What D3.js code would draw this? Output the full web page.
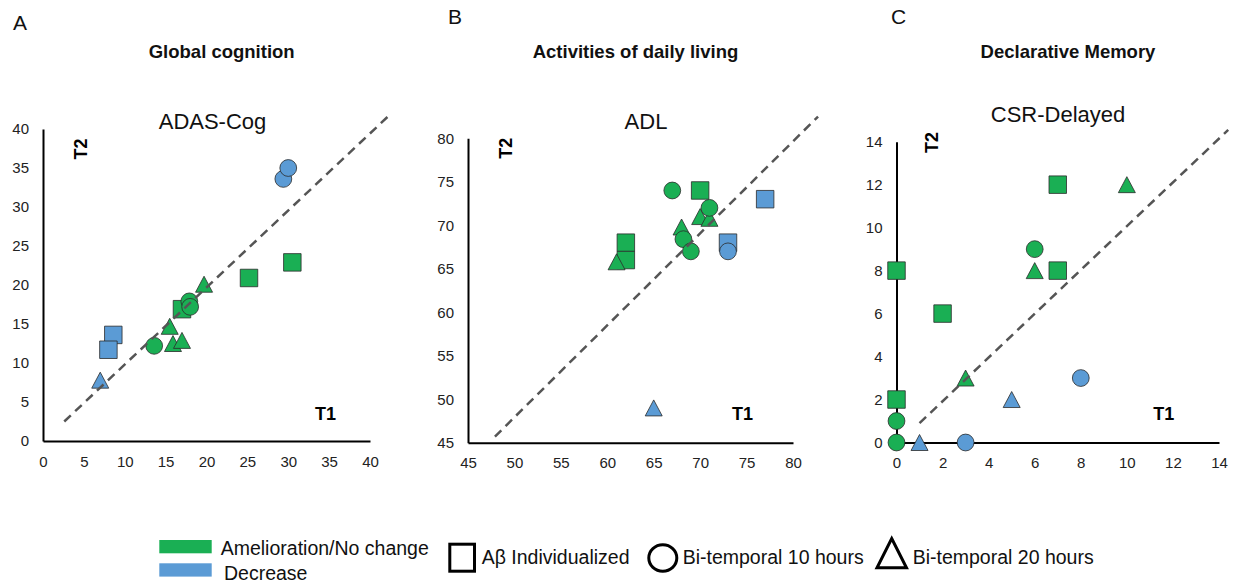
<!DOCTYPE html>
<html>
<head>
<meta charset="utf-8">
<script src="https://cdn.jsdelivr.net/npm/d3@7"></script>
<style>
  body { margin: 0; background: #fff; }
  text { font-family: "Liberation Sans", Arial, sans-serif; }
</style>
</head>
<body>
<svg id="chart" width="1245" height="586"></svg>
<script>
// each row: [T1, T2, change, protocol]
const adasCog = [
  [29.4, 33.6, "down", "bt10"], [30.0, 35.0, "down", "bt10"],
  [8.6, 13.6, "down", "ind"], [8.0, 11.7, "down", "ind"],
  [7.0, 7.8, "down", "bt20"],
  [13.6, 12.2, "up", "bt10"], [17.9, 17.9, "up", "bt10"], [18.0, 17.2, "up", "bt10"],
  [15.5, 14.7, "up", "bt20"], [15.9, 12.5, "up", "bt20"], [17.0, 12.9, "up", "bt20"], [19.7, 20.1, "up", "bt20"],
  [17.0, 16.9, "up", "ind"], [25.2, 20.9, "up", "ind"], [30.5, 22.9, "up", "ind"]
];
const adl = [
  [67, 74, "up", "bt10"], [71, 72, "up", "bt10"], [68.2, 68.4, "up", "bt10"], [69, 67, "up", "bt10"],
  [70, 74, "up", "ind"], [62, 68, "up", "ind"], [62, 66, "up", "ind"],
  [70, 71, "up", "bt20"], [71, 70.8, "up", "bt20"], [68, 69.8, "up", "bt20"], [61, 65.8, "up", "bt20"],
  [77, 73, "down", "ind"], [73, 68, "down", "ind"],
  [73, 67, "down", "bt10"],
  [65, 49, "down", "bt20"]
];
const csrDelayed = [
  [7, 12, "up", "ind"], [7, 8, "up", "ind"], [0, 8, "up", "ind"], [2, 6, "up", "ind"], [0, 2, "up", "ind"],
  [10, 12, "up", "bt20"], [6, 8, "up", "bt20"], [3, 3, "up", "bt20"],
  [6, 9, "up", "bt10"], [0, 1, "up", "bt10"], [0, 0, "up", "bt10"],
  [1, 0, "down", "bt20"], [5, 2, "down", "bt20"],
  [3, 0, "down", "bt10"], [8, 3, "down", "bt10"]
];

const panelLetters = ["A", "B", "C"];
const domainTitles = ["Global cognition", "Activities of daily living", "Declarative Memory"];
const testNames = ["ADAS-Cog", "ADL", "CSR-Delayed"];
const ticksA = [0, 5, 10, 15, 20, 25, 30, 35, 40];
const ticksB = [45, 50, 55, 60, 65, 70, 75, 80];
const ticksC = [0, 2, 4, 6, 8, 10, 12, 14];
// identity reference line (T2 = T1), start and end in data units
const diagA = [[2.6, 2.5], [42.4, 41.8]];
const diagB = [[47.9, 45.7], [82.7, 82.5]];
const diagC = [[1.0, 0.9], [14.4, 14.55]];

const changeLabels = ["Amelioration/No change", "Decrease"];
const protocolLabels = ["A\u03b2 Individualized", "Bi-temporal 10 hours", "Bi-temporal 20 hours"];

const colors = { up: "#1aaf54", down: "#5b9bd5" };
const drawOrder = { ind: 0, bt20: 1, bt10: 2 };

const panels = [
  { data: adasCog, ticks: ticksA, diag: diagA, xr: [43, 370], yr: [441, 129],
    letter: [13, 30], title: 221.7, name: [212.5, 129], t2: [87, 149], t1: [325.5, 420] },
  { data: adl, ticks: ticksB, diag: diagB, xr: [468, 793], yr: [442.7, 138.3],
    letter: [448, 24], title: 635.5, name: [646, 129], t2: [511.7, 148.3], t1: [742.5, 420] },
  { data: csrDelayed, ticks: ticksC, diag: diagC, xr: [896.5, 1219], yr: [442.5, 141.7],
    letter: [891, 24], title: 1068, name: [1058, 122], t2: [938, 142.5], t1: [1163.8, 420] }
];

const svg = d3.select("#chart");

// triangle with its own width and height, centred on its box
function triangle(w, h) {
  return {
    draw(ctx) {
      ctx.moveTo(0, -h / 2);
      ctx.lineTo(w / 2, h / 2);
      ctx.lineTo(-w / 2, h / 2);
      ctx.closePath();
    }
  };
}
const shapes = {
  ind: d3.symbol().type(d3.symbolSquare).size(17.5 * 17.5),
  bt10: d3.symbol().type(d3.symbolCircle).size(Math.PI * 8.4 * 8.4),
  bt20: d3.symbol().type(triangle(17, 16))
};

panels.forEach((p, i) => {
  const dom = d3.extent(p.ticks);
  const x = d3.scaleLinear().domain(dom).range(p.xr);
  const y = d3.scaleLinear().domain(dom).range(p.yr);
  const g = svg.append("g");

  g.append("text").attr("x", p.letter[0]).attr("y", p.letter[1])
    .attr("font-size", 21).attr("fill", "#111").text(panelLetters[i]);
  g.append("text").attr("x", p.title).attr("y", 58).attr("text-anchor", "middle")
    .attr("font-size", 18.5).attr("font-weight", "bold").attr("fill", "#111").text(domainTitles[i]);
  g.append("text").attr("x", p.name[0]).attr("y", p.name[1]).attr("text-anchor", "middle")
    .attr("font-size", 22).attr("fill", "#111").text(testNames[i]);

  const xAxis = g.append("g").attr("transform", "translate(0," + y(dom[0]) + ")")
    .call(d3.axisBottom(x).tickValues(p.ticks).tickSize(0).tickPadding(15));
  const yAxis = g.append("g").attr("transform", "translate(" + x(dom[0]) + ",0)")
    .call(d3.axisLeft(y).tickValues(p.ticks).tickSize(0).tickPadding(14));
  [xAxis, yAxis].forEach(a => {
    a.select(".domain").attr("stroke", "#000").attr("stroke-width", 2);
    a.selectAll("text").attr("font-size", 15).attr("fill", "#222")
      .attr("font-family", "'Liberation Sans', Arial, sans-serif");
  });

  g.append("text").attr("transform", "translate(" + p.t2[0] + "," + p.t2[1] + ") rotate(-90)")
    .attr("text-anchor", "middle").attr("font-size", 18).attr("font-weight", "bold").text("T2");
  g.append("text").attr("x", p.t1[0]).attr("y", p.t1[1]).attr("text-anchor", "middle")
    .attr("font-size", 18).attr("font-weight", "bold").text("T1");

  const pts = p.data.slice().sort((a, b) => drawOrder[a[3]] - drawOrder[b[3]]);
  g.selectAll("path.pt").data(pts).join("path")
    .attr("class", "pt")
    .attr("transform", d => "translate(" + x(d[0]) + "," + y(d[1]) + ")")
    .attr("d", d => shapes[d[3]]())
    .attr("fill", d => colors[d[2]])
    .attr("stroke", "#2b2b2b").attr("stroke-width", 0.8);

  g.append("path").datum(p.diag)
    .attr("d", d3.line().x(d => x(d[0])).y(d => y(d[1])))
    .attr("stroke", "#555").attr("stroke-width", 2.5)
    .attr("stroke-dasharray", "9,6").attr("fill", "none");
});

// legend
const leg = svg.append("g");
leg.selectAll("rect.sw").data(changeLabels).join("rect")
  .attr("class", "sw")
  .attr("x", 159.3).attr("y", (d, i) => 540 + i * 23.3)
  .attr("width", 52.4).attr("height", 13.3)
  .attr("fill", (d, i) => i === 0 ? colors.up : colors.down);
leg.selectAll("text.cl").data(changeLabels).join("text")
  .attr("class", "cl")
  .attr("x", (d, i) => i === 0 ? 220.7 : 224).attr("y", (d, i) => i === 0 ? 555 : 580)
  .attr("font-size", 19.5).attr("fill", "#111").text(d => d);

leg.append("rect").attr("x", 449.8).attr("y", 544.2).attr("width", 24.7).attr("height", 27)
  .attr("fill", "none").attr("stroke", "#000").attr("stroke-width", 3);
leg.append("ellipse").attr("cx", 662.8).attr("cy", 558).attr("rx", 14).attr("ry", 13.2)
  .attr("fill", "none").attr("stroke", "#000").attr("stroke-width", 3);
leg.append("path").attr("d", "M891.7,538.5L906.5,567.8L877,567.8Z")
  .attr("fill", "none").attr("stroke", "#000").attr("stroke-width", 3);
const protoX = [481.7, 682.7, 912.7];
leg.selectAll("text.pl").data(protocolLabels).join("text")
  .attr("class", "pl")
  .attr("x", (d, i) => protoX[i]).attr("y", 564)
  .attr("font-size", 19.5).attr("fill", "#111").text(d => d);
</script>
</body>
</html>
